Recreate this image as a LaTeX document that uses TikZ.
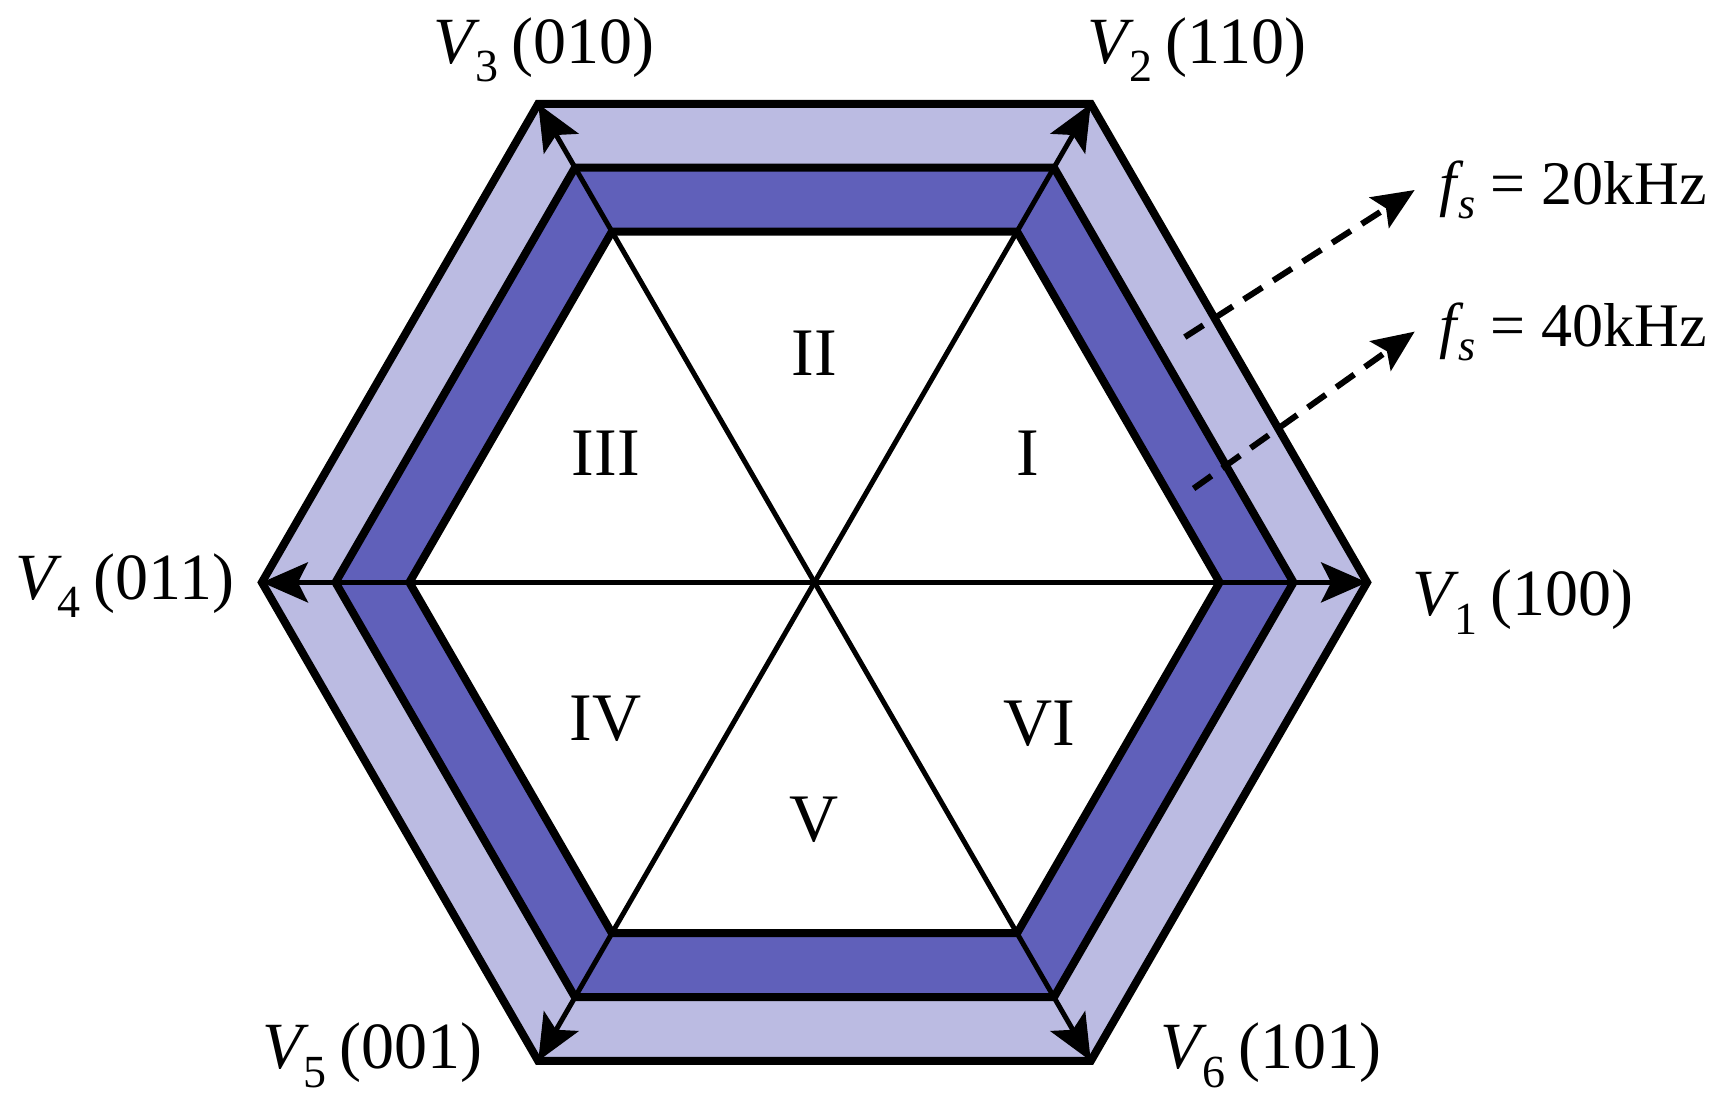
\documentclass[tikz,border=0pt]{standalone}
\usepackage{fontspec}
\setmainfont{Liberation Serif}
\usetikzlibrary{arrows.meta}
\definecolor{bandout}{HTML}{BBBBE2}
\definecolor{bandmid}{HTML}{6060BA}
\newcommand{\vlab}[2]{{\itshape V}\kern0.02em\raisebox{-0.28em}{\fontsize{46}{46}\selectfont #1}\kern0.2em(#2)}
\newcommand{\fslab}[1]{{\itshape f}\kern0.02em\raisebox{-0.22em}{\fontsize{44}{44}\selectfont\itshape s} = #1kHz}
\begin{document}
\begin{tikzpicture}[x=1pt,y=1pt,
  hexline/.style={line width=8pt, line join=miter},
  spoke/.style={line width=5pt, -{Stealth[length=46pt,width=40pt,inset=10pt]}},
  dasharrow/.style={line width=6pt, dash pattern=on 22pt off 13pt, -{Stealth[length=42pt,width=36pt,inset=8pt]}},
  seclab/.style={font=\fontsize{68}{72}\selectfont, inner sep=0pt},
  lab/.style={font=\fontsize{66}{72}\selectfont, inner sep=0pt},
  fslabel/.style={font=\fontsize{62}{70}\selectfont, inner sep=0pt, inner xsep=25pt, anchor=west},
]
\useasboundingbox (-814.5,-526.6) rectangle (918.5,582.4);
\coordinate (O) at (0,0);
\foreach \i in {0,...,5} {
  \coordinate (P\i) at (\i*60:552.6);
  \coordinate (M\i) at (\i*60:479);
  \coordinate (Q\i) at (\i*60:405.1);
}
\filldraw[hexline, fill=bandout] (P0)--(P1)--(P2)--(P3)--(P4)--(P5)--cycle;
\filldraw[hexline, fill=bandmid] (M0)--(M1)--(M2)--(M3)--(M4)--(M5)--cycle;
\filldraw[hexline, fill=white] (Q0)--(Q1)--(Q2)--(Q3)--(Q4)--(Q5)--cycle;
\foreach \i in {0,...,5} { \draw[spoke] (O) -- (P\i); }

% sector labels
\node[seclab] (s1) at (213.3,129.3) {I};
\node[seclab] (s2) at (0,228.7) {II};
\node[seclab] (s3) at (-208.8,129.3) {III};
\node[seclab] (s4) at (-208.8,-136) {IV};
\node[seclab] (s5) at (0,-237.6) {V};
\node[seclab] (s6) at (224.4,-141.5) {VI};

% vector labels
\node[lab] (v1) at (708.5,-19.6) {\vlab{1}{100}};
\node[lab] (v2) at (382.5,532.7) {\vlab{2}{110}};
\node[lab] (v3) at (-270.7,532.7) {\vlab{3}{010}};
\node[lab] (v4) at (-689.6,-3.4) {\vlab{4}{011}};
\node[lab] (v5) at (-442,-473.1) {\vlab{5}{001}};
\node[lab] (v6) at (456.5,-473.1) {\vlab{6}{101}};

% frequency labels
\node[fslabel] (f1) at (600.2,392.4) {\fslab{20}};
\node[fslabel] (f2) at (600.2,250.8) {\fslab{40}};
\coordinate (d1) at (370.3,245.3);
\coordinate (d2) at (379.1,93.9);
\draw[dasharrow] (d1) -- (f1.west);
\draw[dasharrow] (d2) -- (f2.west);
\end{tikzpicture}
\end{document}
